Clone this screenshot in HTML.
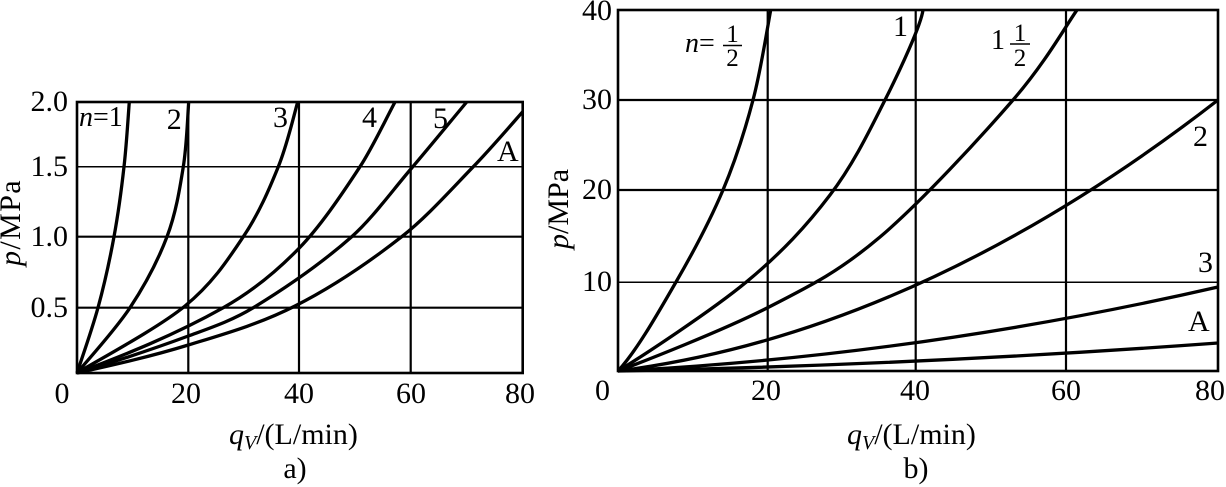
<!DOCTYPE html>
<html>
<head>
<meta charset="utf-8">
<style>
html,body{margin:0;padding:0;background:#fff;}
#wrap{position:relative;width:1226px;height:487px;overflow:hidden;background:#fff;}
#wrap svg{position:absolute;left:0;top:0;display:block;}
.t{position:absolute;font-family:"Liberation Serif","Times New Roman",serif;font-size:30px;line-height:30px;color:#000;white-space:nowrap;margin:0;padding:0;}
.c{width:80px;text-align:center;}
.r{width:80px;text-align:right;}
.s28{font-size:28px;line-height:28px;}
.s25{font-size:25px;line-height:25px;}
.t i{font-style:italic;}
.t .sb{font-style:italic;font-size:20px;line-height:0;vertical-align:-5px;}
.rot{transform:rotate(-90deg);transform-origin:0 0;}
</style>
</head>
<body>
<div id="wrap">
<svg width="1226" height="487" viewBox="0 0 1226 487" xmlns="http://www.w3.org/2000/svg">
<rect x="0" y="0" width="1226" height="487" fill="#fff"/>

<!-- ============ Chart a ============ -->
<g stroke="#000" fill="none">
  <line x1="188.3" y1="102" x2="188.3" y2="373" stroke-width="2.2"/>
  <line x1="299" y1="102" x2="299" y2="373" stroke-width="2.2"/>
  <line x1="410.7" y1="102" x2="410.7" y2="373" stroke-width="2.2"/>
  <line x1="77" y1="166.7" x2="522.7" y2="166.7" stroke-width="1.5"/>
  <line x1="77" y1="236.7" x2="522.7" y2="236.7" stroke-width="2.2"/>
  <line x1="77" y1="307.7" x2="522.7" y2="307.7" stroke-width="2.2"/>
  <rect x="77" y="102" width="445.7" height="271" stroke-width="2.6"/>
</g>
<g stroke="#000" fill="none" stroke-width="3.3" stroke-linejoin="round">
  <path d="M77,373 C80.5,362.1 91.8,330.4 98,307.7 C104.2,285 109.7,260.2 114,236.7 C118.3,213.2 121.5,189.2 124,166.7 C126.6,144.3 128.4,112.8 129.3,102"/>
  <path d="M77,373 C85.8,362.1 115,330.4 130,307.7 C145,285 158.1,260.2 167,236.7 C175.9,213.2 179.7,189.2 183.3,166.7 C186.9,144.3 187.8,112.8 188.7,102"/>
  <path d="M77,373 C95,361.8 157.3,328.7 185,306 C212.7,283.3 227.8,259.9 243.3,236.7 C258.9,213.5 269.2,189.2 278.3,166.7 C287.4,144.3 294.5,112.8 297.7,102"/>
  <path d="M77,373 C125.8,354.5 174.5,335.1 223.3,307.7 C248.6,293.5 274,274.1 299.3,248 C319.5,227.1 339.8,197.6 360,166.7 C371.7,148.9 383.3,124.2 395,102"/>
  <path d="M77,373 C114.1,361.9 151.2,349.7 188.3,336 C210,328 231.6,320.9 253.3,307.7 C286.1,287.7 318.9,265.6 351.7,236.7 C371.7,219.1 391.7,191.4 411.7,168 C430,146.5 448.4,124 466.7,102"/>
  <path d="M77,373 C114.1,364.8 151.2,356.4 188.3,345 C223.9,334.1 259.4,324.1 295,306 C330.6,288 366.1,264.5 401.7,236.7 C425.6,218.1 449.4,191.4 473.3,166.7 C489.8,149.7 506.2,130.6 522.7,111.7"/>
</g>

<!-- ============ Chart b ============ -->
<g stroke="#000" fill="none">
  <line x1="767.7" y1="10" x2="767.7" y2="371" stroke-width="2.2"/>
  <line x1="915.7" y1="10" x2="915.7" y2="371" stroke-width="2.2"/>
  <line x1="1066" y1="10" x2="1066" y2="371" stroke-width="2.2"/>
  <line x1="618" y1="100" x2="1218" y2="100" stroke-width="2.2"/>
  <line x1="618" y1="190" x2="1218" y2="190" stroke-width="2.2"/>
  <line x1="618" y1="282.3" x2="1218" y2="282.3" stroke-width="1.5"/>
  <rect x="618" y="10" width="600" height="361" stroke-width="2.6"/>
</g>
<g stroke="#000" fill="none" stroke-width="3.3" stroke-linejoin="round">
  <path d="M618,371 C637.3,350 658.5,312.2 676,282 C693.5,251.8 710.2,220.3 723,190 C735.8,159.7 745.1,130 753,100 C761,70 767.8,25 770.7,10"/>
  <path d="M618,371 C639.4,358 711.4,311 746.7,281.7 C782,252.4 807,225.3 830,195 C853.1,164.7 869.5,130.8 885,100 C900.5,69.2 921,25 923,10"/>
  <path d="M618,371 C643,361.7 723.3,330.3 767,308 C810.7,285.7 839,271.7 880,237 C921,202.3 980.2,137.8 1013,100 C1045.8,62.2 1066.3,25 1077,10"/>
  <path d="M618,371 Q918,332.75 1218,100"/>
  <path d="M618,371 Q918,355.67 1218,287"/>
  <path d="M618,371 Q918,365 1218,343"/>
</g>
<line x1="723" y1="45.5" x2="742" y2="45.5" stroke="#000" stroke-width="1.6"/>
<line x1="1010" y1="44" x2="1030" y2="44" stroke="#000" stroke-width="1.6"/>
</svg>

<!-- Chart a text -->
<div class="t r" style="left:-12px;top:87px;">2.0</div>
<div class="t r" style="left:-12px;top:152px;">1.5</div>
<div class="t r" style="left:-12px;top:222px;">1.0</div>
<div class="t r" style="left:-12px;top:293px;">0.5</div>
<div class="t c" style="left:22px;top:379px;">0</div>
<div class="t c" style="left:146px;top:379px;">20</div>
<div class="t c" style="left:259px;top:379px;">40</div>
<div class="t c" style="left:371px;top:379px;">60</div>
<div class="t c" style="left:480px;top:379px;">80</div>
<div class="t" style="left:229px;top:420px;"><i>q</i><span class="sb">V</span>/(L/min)</div>
<div class="t c" style="left:255px;top:454px;">a)</div>
<div class="t rot" style="left:-4px;top:266px;letter-spacing:1.4px;"><i>p</i>/MPa</div>

<div class="t s28" style="left:79px;top:103.5px;"><i>n</i>=1</div>
<div class="t" style="left:166.7px;top:105px;">2</div>
<div class="t" style="left:273px;top:103px;">3</div>
<div class="t" style="left:362px;top:103px;">4</div>
<div class="t" style="left:433px;top:104px;">5</div>
<div class="t" style="left:497px;top:137px;">A</div>

<!-- Chart b text -->
<div class="t r" style="left:532px;top:-4px;">40</div>
<div class="t r" style="left:532px;top:85px;">30</div>
<div class="t r" style="left:532px;top:175px;">20</div>
<div class="t r" style="left:532px;top:267px;">10</div>
<div class="t c" style="left:562.5px;top:376px;">0</div>
<div class="t c" style="left:726px;top:376px;">20</div>
<div class="t c" style="left:875px;top:376px;">40</div>
<div class="t c" style="left:1026px;top:376px;">60</div>
<div class="t c" style="left:1170px;top:376px;">80</div>
<div class="t" style="left:847px;top:420px;"><i>q</i><span class="sb">V</span>/(L/min)</div>
<div class="t c" style="left:876px;top:454px;">b)</div>
<div class="t rot" style="left:544px;top:249px;"><i>p</i>/MPa</div>

<div class="t s28" style="left:685px;top:29.5px;"><i>n</i>=</div>
<div class="t s25 c" style="left:692.5px;top:22px;">1</div>
<div class="t s25 c" style="left:692.5px;top:45.6px;">2</div>

<div class="t" style="left:893px;top:11.6px;">1</div>

<div class="t s28" style="left:991px;top:26.5px;">1</div>
<div class="t s25 c" style="left:980px;top:20.8px;">1</div>
<div class="t s25 c" style="left:980px;top:45.8px;">2</div>

<div class="t" style="left:1193px;top:122px;">2</div>
<div class="t" style="left:1198px;top:248px;">3</div>
<div class="t" style="left:1188px;top:307px;">A</div>
</div>
</body>
</html>
